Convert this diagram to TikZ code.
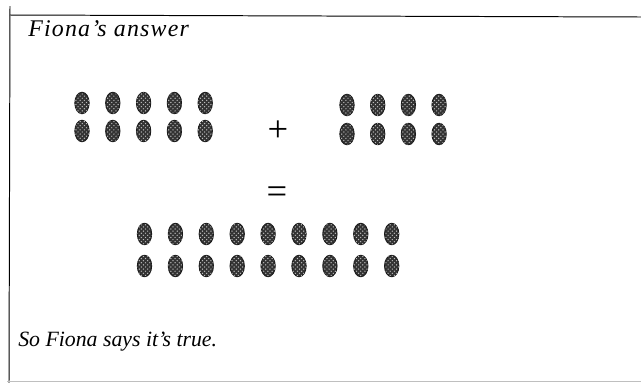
\documentclass[tikz,border=0pt]{standalone}
\usepackage{fontspec}
\setmainfont{Liberation Serif}
\usetikzlibrary{shapes.geometric, patterns}

\begin{document}
\begin{tikzpicture}[
    x=0.025cm, y=-0.025cm,
    counter/.style={ellipse, draw=black!90, line width=0.6pt, fill=black!80,
                    minimum width=0.36cm, minimum height=0.54cm, inner sep=0pt,
                    postaction={pattern=crosshatch dots, pattern color=gray!50}},
    caption/.style={font=\fontsize{17}{19}\selectfont\itshape, inner sep=0pt, anchor=base west},
    sign/.style={font=\fontsize{26}{26}\selectfont, inner sep=0pt},
    frame/.style={line width=0.7pt, black},
]
    \useasboundingbox (0,0) rectangle (641,383);

    % box
    \draw[frame] (10,6) -- (9,383);
    \draw[frame] (10,15) -- (641,17);
    \draw[frame, black!25] (7,381) -- (641,381);

    \node[caption] (title) at (28,36.5) {\addfontfeature{LetterSpace=5}Fiona's answer};

    % first addend: 5 x 2
    \foreach \i in {1,...,5}
        \foreach \j/\y in {1/103, 2/131}
            \node[counter] (a-\i-\j) at ({82+30.8*(\i-1)}, \y) {};

    \node[sign] (plus) at (278,131) {+};

    % second addend: 4 x 2
    \foreach \i in {1,...,4}
        \foreach \j/\y in {1/105, 2/134}
            \node[counter] (b-\i-\j) at ({347+30.7*(\i-1)}, \y) {};

    \node[sign] (equals) at (277,195) {=};

    % sum: 9 x 2
    \foreach \i in {1,...,9}
        \foreach \j/\y in {1/234, 2/266}
            \node[counter] (c-\i-\j) at ({144.5+30.9*(\i-1)}, \y) {};

    \node[caption, font=\fontsize{15.5}{18}\selectfont\itshape] (verdict) at (18,346) {So Fiona says it's true.};
\end{tikzpicture}
\end{document}
